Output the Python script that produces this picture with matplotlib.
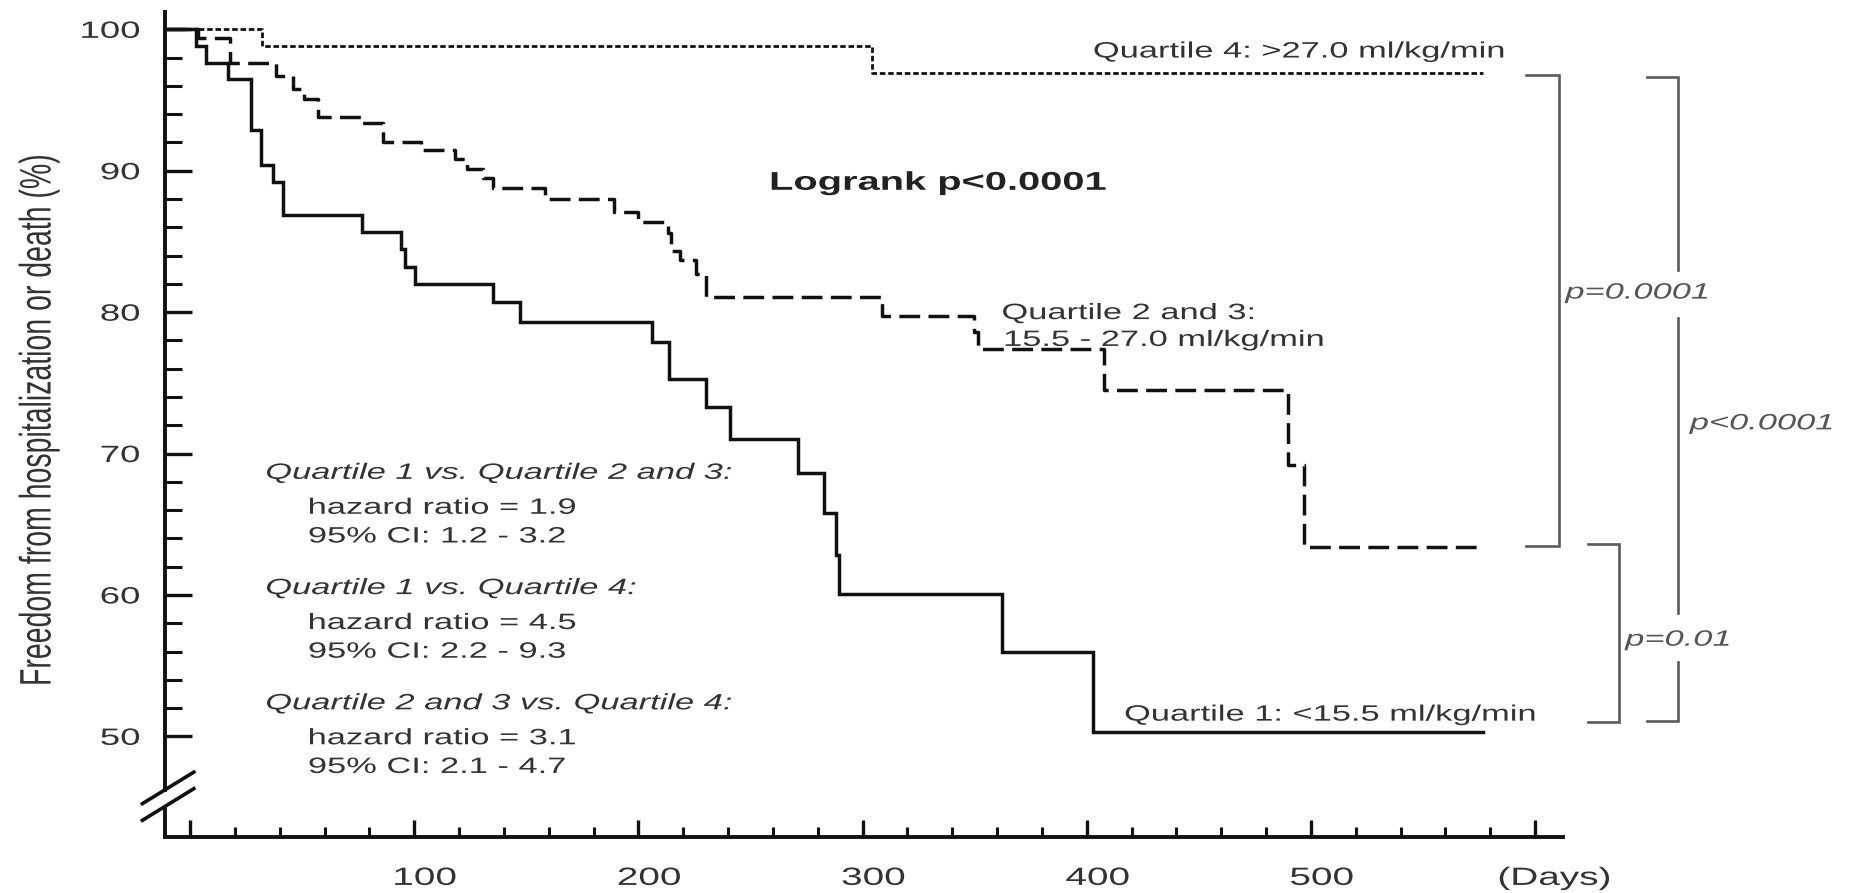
import numpy as np
import matplotlib
matplotlib.use('Agg')
import matplotlib.pyplot as plt
from matplotlib import patheffects
from matplotlib.transforms import Affine2D

plt.rcParams['font.family'] = ['Liberation Sans', 'DejaVu Sans']

# Kaplan-Meier steps: day of each event and freedom from event (%) after it
q1_days = [2.5, 7, 17, 27, 31.5, 37, 41.5, 76.5, 94, 96, 100.5, 135, 147,
           206, 213.5, 230, 241, 271, 283, 288, 289.5, 362, 403]
q1_surv = [98.8, 97.6, 96.5, 92.9, 90.4, 89.2, 86.9, 85.7, 84.5, 83.2, 82.0, 80.7, 79.3,
           77.9, 75.3, 73.3, 71.0, 68.6, 65.8, 62.8, 60.1, 56.0, 50.3]

q23_days = [3.5, 18, 38.5, 46, 51, 57, 76.5, 86, 103, 118, 123.5, 130.5, 135, 158.5,
            189, 200, 213, 214.5, 218.5, 225.5, 230, 308.5, 349.5, 351.5, 407.5, 490, 497]
q23_surv = [99.4, 97.6, 96.7, 95.8, 95.1, 93.8, 93.4, 92.0, 91.5, 90.8, 90.1, 89.5, 88.8, 88.0,
            87.1, 86.4, 85.6, 84.3, 83.7, 82.7, 81.1, 79.7, 78.6, 77.4, 74.5, 69.2, 63.4]

q4_days = [32, 304]
q4_surv = [98.8, 96.9]

last_day = 577

x_major = [0, 100, 200, 300, 400, 500, 600]
x_labels = ['', '100', '200', '300', '400', '500', '(Days)']
y_major = [50, 60, 70, 80, 90, 100]

# pairwise comparisons drawn as brackets at the right: (top %, bottom %, p-value)
pair_q4_q23 = (96.8, 63.45, 'p=0.0001')
pair_q4_q1 = (96.65, 51.1, 'p<0.0001')
pair_q23_q1 = (63.6, 51.0, 'p=0.01')

X_LEFT, X_RIGHT = -11.2, 612.5
Y_BOTTOM, Y_TOP = 42.9, 101.25
INK = '#111111'
TEXT = '#333333'
STRETCH = 1.55


class Stretch(patheffects.AbstractPathEffect):
    """Widen drawn text horizontally around its left, right or centre edge."""

    def __init__(self, sx=STRETCH, anchor='left'):
        super().__init__()
        self.sx = sx
        self.anchor = anchor

    def draw_path(self, renderer, gc, tpath, affine, rgbFace=None):
        box = tpath.get_extents(affine)
        x0 = {'left': box.x0, 'right': box.x1, 'center': 0.5 * (box.x0 + box.x1)}[self.anchor]
        wide = Affine2D().translate(-x0, 0).scale(self.sx, 1).translate(x0, 0)
        renderer.draw_path(gc, tpath, affine + wide, rgbFace)


def label(x, y, s, size=16, **kw):
    kw.setdefault('color', TEXT)
    return ax.text(x, y, s, fontsize=size, ha='left', va='center', clip_on=False,
                   path_effects=[Stretch()], **kw)


def km_line(days, surv):
    x = np.r_[X_LEFT, days, last_day]
    y = np.r_[100, surv, surv[-1]]
    return x, y


def bracket(x0, x1, y_top, y_bot, gaps=()):
    ys = [y_top] + [v for g in gaps for v in g] + [y_bot]
    xs, yy = [x0], [y_top]
    for i, (a, b) in enumerate(zip(ys[::2], ys[1::2])):
        if i:
            xs.append(np.nan)
            yy.append(np.nan)
        xs += [x1, x1]
        yy += [a, b]
    xs.append(x0)
    yy.append(y_bot)
    ax.plot(xs, yy, color='#5a5a5a', lw=1.9, clip_on=False, solid_joinstyle='miter')


fig = plt.figure(figsize=(18.5, 8.93), dpi=100)
ax = fig.add_axes([0.0892, 0.0630, 0.7557, 0.9239])

ax.step(*km_line(q4_days, q4_surv), where='post', color=INK, lw=2.0, dashes=(2.0, 1.0))
ax.step(*km_line(q23_days, q23_surv), where='post', color=INK, lw=2.5, dashes=(6, 2.4))
ax.step(*km_line(q1_days, q1_surv), where='post', color=INK, lw=2.5, solid_joinstyle='miter')

ax.set_xlim(X_LEFT, X_RIGHT)
ax.set_ylim(Y_BOTTOM, Y_TOP)

# axes: open box, broken y axis just above the x axis
for side in ['top', 'right']:
    ax.spines[side].set_visible(False)
for side in ['left', 'bottom']:
    ax.spines[side].set_linewidth(2.8)
    ax.spines[side].set_color(INK)
ax.spines['left'].set_bounds(46.23, Y_TOP)
ax.plot([X_LEFT, X_LEFT], [Y_BOTTOM, 45.05], color=INK, lw=2.8, clip_on=False,
        solid_capstyle='butt')
ax.plot([-21.3, 1.65], [45.24, 47.47], color=INK, lw=2.6, clip_on=False)
ax.plot([-21.3, 1.65], [44.06, 46.30], color=INK, lw=2.6, clip_on=False)

ax.set_xticks(x_major)
ax.set_xticklabels(x_labels)
ax.set_xticks(np.arange(0, 601, 20), minor=True)
ax.set_yticks(y_major)
ax.set_yticks(np.arange(50, 101, 2), minor=True)

ax.tick_params(axis='x', which='major', direction='in', length=12.5, width=2.4, pad=21,
               labelsize=18, color=INK, labelcolor=TEXT)
ax.tick_params(axis='x', which='minor', direction='in', length=7.5, width=2.2, color=INK)
ax.tick_params(axis='y', which='major', direction='in', length=19.5, width=2.4, pad=18,
               labelsize=17, color=INK, labelcolor=TEXT)
ax.tick_params(axis='y', which='minor', direction='in', length=12, width=2.2, color=INK)

for lab in ax.get_xticklabels():
    lab.set_path_effects([Stretch(anchor='left')])
for lab in ax.get_yticklabels():
    lab.set_path_effects([Stretch(anchor='right')])

fig.text(39.5 / 1850, 1 - 420 / 893, 'Freedom from hospitalization or death (%)',
         rotation=90, ha='center', va='center', fontsize=20.5, color=TEXT,
         path_effects=[Stretch(anchor='center')])

# curve labels
label(403, 98.4, 'Quartile 4: >27.0 ml/kg/min')
label(362.2, 79.9, 'Quartile 2 and 3:')
label(363.1, 78.0, '15.5 - 27.0 ml/kg/min')
label(416.9, 51.5, 'Quartile 1: <15.5 ml/kg/min')
label(258.7, 89.15, 'Logrank p<0.0001', size=18.5, weight='bold', color='#222222')

# hazard ratios
comparisons = [
    (68.6, 'Quartile 1 vs. Quartile 2 and 3:', 'hazard ratio = 1.9', '95% CI: 1.2 - 3.2'),
    (60.45, 'Quartile 1 vs. Quartile 4:', 'hazard ratio = 4.5', '95% CI: 2.2 - 9.3'),
    (52.3, 'Quartile 2 and 3 vs. Quartile 4:', 'hazard ratio = 3.1', '95% CI: 2.1 - 4.7'),
]
for y, head, hr, ci in comparisons:
    label(33.8, y, head, style='italic')
    label(52.8, y - 2.47, hr)
    label(52.8, y - 4.5, ci)

# significance brackets
bracket(596, 610.7, pair_q4_q23[0], pair_q4_q23[1])
bracket(649.8, 663.6, pair_q4_q1[0], pair_q4_q1[1], gaps=[(82.97, 79.58), (58.7, 55.26)])
bracket(623.6, 637.6, pair_q23_q1[0], pair_q23_q1[1])
label(613.4, 81.35, pair_q4_q23[2], style='italic', color='#555555')
label(668.9, 72.1, pair_q4_q1[2], style='italic', color='#555555')
label(640.1, 56.8, pair_q23_q1[2], style='italic', color='#555555')

fig.savefig('out.png', dpi=100)
